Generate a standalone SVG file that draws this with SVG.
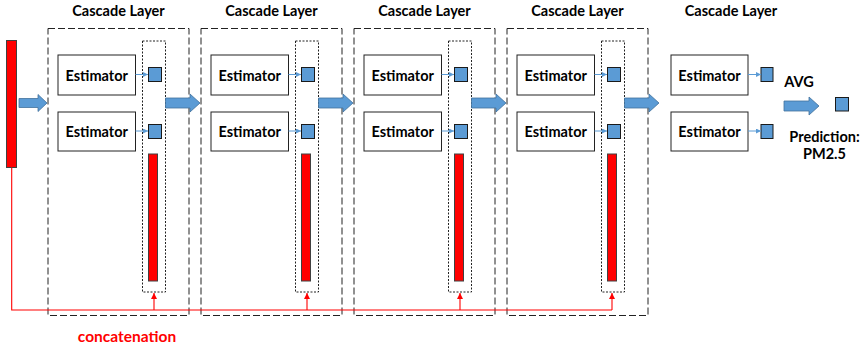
<svg xmlns="http://www.w3.org/2000/svg" width="862" height="348" viewBox="0 0 862 348">
<defs>
<style>
text{font-family:Lato,"Liberation Sans",sans-serif;font-weight:bold;fill:#000}
.title{font-size:14.5px;text-anchor:middle}
.est{font-size:14.5px;text-anchor:middle}
.layer{fill:none;stroke:#222;stroke-width:1;stroke-dasharray:7 3}
.col{fill:none;stroke:#222;stroke-width:1;stroke-dasharray:2 1.5}
.ebox{fill:#fff;stroke:#222;stroke-width:1}
.sq{fill:#5B9BD5;stroke:#1a1a1a;stroke-width:1}
.bar{fill:#FF0000;stroke:#404040;stroke-width:1}
.big{fill:#5B9BD5;stroke:#41719C;stroke-width:0.8}
.small{stroke:#5B9BD5;stroke-width:1;fill:none;marker-end:url(#sa)}
.red{stroke:#FF0000;stroke-width:1.1;fill:none}
.redup{stroke:#FF0000;stroke-width:1.1;fill:none;marker-end:url(#ra)}
</style>
<marker id="sa" viewBox="0 0 6 6" refX="6" refY="3" markerWidth="5" markerHeight="5" markerUnits="userSpaceOnUse" orient="auto"><path d="M0,0L6,3L0,6z" fill="#5B9BD5"/></marker>
<marker id="ra" viewBox="0 0 6 6" refX="6" refY="3" markerWidth="6" markerHeight="6" markerUnits="userSpaceOnUse" orient="auto"><path d="M0,0L6,3L0,6z" fill="#FF0000"/></marker>
<g id="layerTpl">
<rect class="layer" x="48" y="28.5" width="141" height="287"/>
<rect class="col" x="142.5" y="41" width="23" height="251"/>
<rect class="ebox" x="58" y="55" width="77.5" height="40"/>
<text class="est" x="96.7" y="80.5">Estimator</text>
<rect class="ebox" x="58" y="112" width="77.5" height="39"/>
<text class="est" x="96.7" y="136.5">Estimator</text>
<rect class="sq" x="148.5" y="67.5" width="13" height="14"/>
<rect class="sq" x="148.5" y="124.5" width="13" height="14"/>
<rect class="bar" x="148.5" y="154" width="9" height="127"/>
<line class="small" x1="135.5" y1="74.5" x2="148" y2="74.5"/>
<line class="small" x1="135.5" y1="131" x2="148" y2="131"/>
<text class="title" x="118.5" y="16">Cascade Layer</text>
</g>
</defs>
<rect width="862" height="348" fill="#fff"/>
<g id="input">
<rect class="bar" x="6.5" y="40.5" width="10" height="127"/>
</g>
<g id="layer1"><use href="#layerTpl"/></g>
<g id="layer2"><use href="#layerTpl" x="153"/></g>
<g id="layer3"><use href="#layerTpl" x="306"/></g>
<g id="layer4"><use href="#layerTpl" x="459"/></g>
<g id="layer5">
<text class="title" x="731" y="16">Cascade Layer</text>
<rect class="ebox" x="671" y="55" width="77" height="40"/>
<text class="est" x="709.5" y="80.5">Estimator</text>
<rect class="ebox" x="671" y="112" width="77" height="39"/>
<text class="est" x="709.5" y="136.5">Estimator</text>
<rect class="sq" x="761" y="67.5" width="12" height="14"/>
<rect class="sq" x="761" y="124.5" width="12" height="14"/>
<line class="small" x1="748" y1="74.5" x2="761" y2="74.5"/>
<line class="small" x1="748" y1="131" x2="761" y2="131"/>
</g>
<g id="output">
<text class="est" x="799" y="87">AVG</text>
<rect class="sq" x="835.5" y="97.5" width="13" height="13.5"/>
<text class="est" x="824.5" y="141.5">Prediction:</text>
<text class="est" x="824.5" y="158.5">PM2.5</text>
</g>
<g id="connectors">
<path class="big" d="M19,98.5H38V94.5L47,103L38,111.5V107.5H19Z"/>
<path class="big" d="M165.5,98H190V94L200,103L190,112V108H165.5Z"/>
<path class="big" d="M318.5,98H343V94L353,103L343,112V108H318.5Z"/>
<path class="big" d="M471.5,98H496V94L506,103L496,112V108H471.5Z"/>
<path class="big" d="M624.5,98H649V94L659,103L649,112V108H624.5Z"/>
<path class="big" d="M784,101H809V97L819,106L809,115V111H784Z"/>
<path class="red" d="M11.7,167.5V310H612"/>
<line class="redup" x1="154" y1="310" x2="154" y2="293"/>
<line class="redup" x1="307" y1="310" x2="307" y2="293"/>
<line class="redup" x1="460" y1="310" x2="460" y2="293"/>
<line class="redup" x1="612" y1="310" x2="612" y2="293"/>
</g>
<text x="127" y="342" style="font-size:15.5px;text-anchor:middle;fill:#FF0000">concatenation</text>
</svg>
